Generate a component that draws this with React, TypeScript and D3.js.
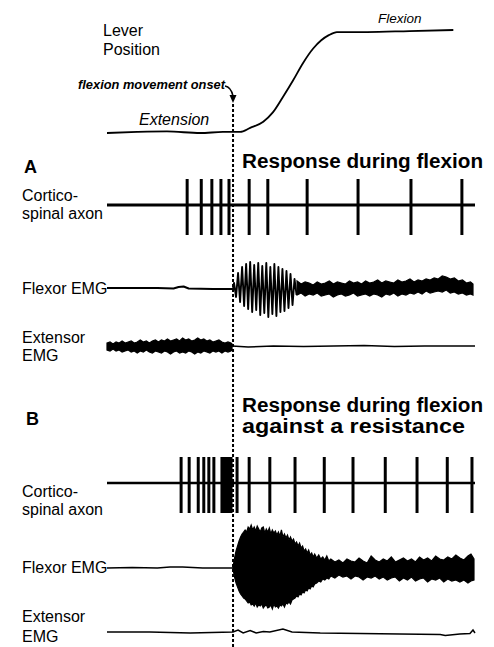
import React from 'react';
import * as d3 from 'd3';

// time in ms, 0 = flexion movement onset
const timeDomain = [-250, 480];

// lever position: 0 = extension, 1 = flexion
const leverTimes = [-250, -190, -131, -65, -20, 0, 14, 34, 60, 79, 99, 119, 139, 159, 175, 190, 206, 266, 350, 437];
const leverValues = [0, 0.01, 0.015, 0, 0.01, 0.01, 0.01, 0.05, 0.11, 0.2, 0.35, 0.51, 0.68, 0.82, 0.9, 0.95, 0.98, 0.98, 0.99, 1.0];

// corticospinal spike times (ms)
const spikesA = [-91, -63, -42, -24, -8, 32, 69, 147, 248, 353, 454];
const spikesB = [-103, -87, -69, -58, -48, -38, -22, -19, -16, -13, -10, -7, -4, 8, 32, 73, 123, 181, 238, 302, 365, 425, 474];

// EMG traces, arbitrary units: (t, value) or (t, upper, lower)
const flexorBaseA = [[-250, 1], [-150, 1], [-118, 0.5], [-108, 2], [-98, 2.5], [-88, 0.5], [-40, 0], [0, 0]];
const flexorBurstA = [
  [2, 6], [6, -8], [10, 16], [14, -13], [18, 22], [22, -17], [26, 25], [30, -20],
  [34, 27], [38, -23], [42, 24], [46, -21], [50, 26], [54, -26], [58, 23], [62, -24],
  [66, 26], [70, -28], [74, 22], [78, -25], [82, 25], [86, -27], [90, 22], [94, -23],
  [98, 20], [102, -22], [106, 18], [110, -19], [114, 15], [118, -16], [122, 10], [126, -6]
];
const flexorNoiseA = [
  [127, 8, -6], [135, 5, -4], [143, 7, -7], [151, 6, -5], [159, 4, -6], [167, 7, -4], [175, 5, -7],
  [183, 6, -6], [191, 8, -5], [199, 5, -8], [207, 7, -6], [215, 6, -5], [223, 5, -7], [231, 8, -6],
  [239, 6, -4], [247, 7, -7], [255, 5, -6], [263, 8, -5], [271, 6, -7], [279, 7, -5], [287, 9, -6],
  [295, 6, -8], [303, 8, -5], [311, 7, -6], [319, 6, -4], [327, 9, -7], [335, 7, -5], [343, 8, -6],
  [351, 10, -4], [359, 7, -5], [367, 9, -3], [375, 8, -5], [383, 10, -2], [391, 9, -4], [399, 11, -3],
  [407, 10, -2], [415, 13, -3], [423, 12, -1], [431, 10, -4], [439, 11, -3], [447, 8, -5], [455, 9, -4],
  [463, 6, -6], [471, 7, -5], [476, 5, -6]
];
const extensorNoiseA = [
  [-250, 3, -4], [-244, 4, -5], [-238, 2, -3], [-232, 4, -5], [-226, 3, -4], [-220, 5, -6], [-214, 3, -5],
  [-208, 4, -4], [-202, 5, -6], [-196, 3, -5], [-190, 4, -7], [-184, 6, -5], [-178, 4, -6], [-172, 5, -4],
  [-166, 3, -6], [-160, 5, -7], [-154, 6, -5], [-148, 4, -6], [-142, 6, -7], [-136, 5, -5], [-130, 7, -6],
  [-124, 5, -8], [-118, 6, -6], [-112, 7, -5], [-106, 5, -7], [-100, 8, -6], [-94, 6, -7], [-88, 7, -5],
  [-82, 5, -6], [-76, 6, -8], [-70, 8, -6], [-64, 6, -7], [-58, 7, -5], [-52, 5, -6], [-46, 6, -7],
  [-40, 4, -5], [-34, 5, -6], [-28, 6, -5], [-22, 4, -7], [-16, 3, -5], [-10, 4, -6], [-4, 3, -5], [-2, 2, -4]
];
const extensorBaseA = [[-2, 0], [30, -1], [80, 0], [140, -0.5], [200, 0], [260, 0.5], [320, -0.5], [380, 0], [440, 0], [480, 0]];

const flexorBaseB = [[-250, 0], [-200, 0.5], [-150, 0], [-125, 1], [-100, 1], [-60, 0], [0, 0]];
const flexorBurstB = [
  [0, 1, -1], [3, 10, -9], [6, 17, -15], [9, 22, -19], [12, 27, -23], [15, 31, -26], [18, 34, -28],
  [21, 36, -30], [24, 38, -31], [27, 36, -33], [30, 41, -35], [33, 39, -34], [36, 43, -37], [39, 38, -36],
  [42, 41, -38], [45, 37, -35], [48, 42, -39], [51, 39, -37], [54, 36, -38], [57, 40, -36], [60, 41, -40],
  [63, 35, -38], [66, 39, -37], [69, 36, -40], [72, 40, -39], [75, 34, -37], [78, 38, -41], [81, 35, -36],
  [84, 37, -39], [87, 33, -38], [90, 36, -40], [93, 32, -37], [96, 38, -38], [99, 31, -36], [102, 34, -39],
  [105, 30, -35], [108, 33, -36], [111, 28, -34], [114, 31, -36], [117, 27, -32], [120, 29, -31], [123, 24, -30],
  [126, 26, -28], [129, 22, -29], [132, 25, -26], [135, 20, -27], [138, 22, -24], [141, 17, -25], [144, 19, -22],
  [147, 15, -23], [150, 18, -20], [153, 13, -21], [156, 15, -18], [159, 11, -19], [162, 14, -16], [166, 10, -15],
  [170, 13, -13], [174, 9, -14], [178, 11, -11], [182, 8, -12], [186, 12, -10], [190, 7, -11],
  [194, 9, -8], [202, 6, -10], [210, 8, -7], [218, 5, -9], [226, 9, -8], [234, 7, -11], [242, 6, -8],
  [250, 10, -9], [258, 7, -12], [266, 5, -9], [274, 12, -10], [282, 8, -8], [290, 6, -11], [298, 9, -9],
  [306, 7, -12], [314, 11, -10], [322, 6, -9], [330, 8, -13], [338, 10, -10], [346, 7, -12], [354, 9, -9],
  [362, 6, -13], [370, 11, -11], [378, 8, -10], [386, 10, -14], [394, 7, -11], [402, 12, -12], [410, 9, -10],
  [418, 8, -14], [426, 11, -11], [434, 9, -13], [442, 13, -12], [450, 10, -14], [458, 8, -12], [466, 12, -15],
  [472, 14, -13], [478, 9, -12]
];
const extensorBaseB = [
  [-250, 0], [-165, 0], [-85, -1], [0, 0], [10, 2], [20, -1], [34, 1.5], [46, -1], [60, 0.5],
  [73, 0], [99, 3], [117, 0], [173, -1], [252, -1.5], [331, -2], [411, -2.5], [421, -3.5],
  [450, -2], [470, -1.5], [476, 2], [480, -1]
];

const FONT = '"Liberation Sans", Arial, Helvetica, sans-serif';

export default function App() {
  const x = d3.scaleLinear().domain(timeDomain).range([107, 475]);
  const leverY = d3.scaleLinear().domain([0, 1]).range([133, 30]);
  const emgY = (c: number) => d3.scaleLinear().domain([-40, 40]).range([c + 40, c - 40]);

  const leverLine = d3.line<number>()
    .x((_, i) => x(leverTimes[i]))
    .y(d => leverY(d))
    .curve(d3.curveMonotoneX);

  const trace = (c: number) => d3.line<number[]>().x(d => x(d[0])).y(d => emgY(c)(d[1]));
  const band = (c: number) => d3.area<number[]>()
    .x(d => x(d[0]))
    .y0(d => emgY(c)(d[2]))
    .y1(d => emgY(c)(d[1]));

  const onsetX = x(0);

  const axon = (cy: number, spikes: number[], w: number) => (
    <g stroke="#000">
      <line x1={x(timeDomain[0])} x2={x(timeDomain[1])} y1={cy} y2={cy} strokeWidth={w} />
      {spikes.map((t, i) => (
        <line key={i} x1={x(t)} x2={x(t)} y1={cy - 26} y2={cy + 30} strokeWidth={3} />
      ))}
    </g>
  );

  return (
    <svg width={494} height={647} style={{ position: 'absolute', left: 0, top: 0, background: '#fff' }} fontFamily={FONT}>
      {/* lever */}
      <text x={103} y={36} fontSize={16}>Lever</text>
      <text x={103} y={55} fontSize={16}>Position</text>
      <text x={378} y={23} fontSize={13.5} fontStyle="italic">Flexion</text>
      <text x={139} y={125} fontSize={16} fontStyle="italic">Extension</text>
      <text x={78} y={89} fontSize={12} fontStyle="italic" fontWeight="bold" textLength={147} lengthAdjust="spacingAndGlyphs">flexion movement onset</text>
      <path d={leverLine(leverValues) || ''} fill="none" stroke="#000" strokeWidth={1.8} />

      {/* onset marker */}
      <path d={`M 225 86 Q 231 87 233 96`} fill="none" stroke="#000" strokeWidth={1.5} />
      <polygon points={`${onsetX - 3.5},95 ${onsetX + 3.5},95 ${onsetX},103`} fill="#000" />
      <line x1={onsetX} x2={onsetX} y1={104} y2={647} stroke="#000" strokeWidth={2} strokeDasharray="3 2" />

      {/* panel A */}
      <text x={24} y={173} fontSize={18} fontWeight="bold">A</text>
      <text x={242} y={168} fontSize={20} fontWeight="bold" textLength={241} lengthAdjust="spacingAndGlyphs">Response during flexion</text>
      <text x={22} y={201} fontSize={16}>Cortico-</text>
      <text x={22} y={219} fontSize={16}>spinal axon</text>
      {axon(205, spikesA, 3)}

      <text x={22} y={294} fontSize={16}>Flexor EMG</text>
      <path d={trace(289)(flexorBaseA.concat(flexorBurstA)) || ''} fill="none" stroke="#000" strokeWidth={1.9} strokeLinejoin="round" />
      <path d={band(289)(flexorNoiseA) || ''} fill="#000" stroke="#000" strokeWidth={1.2} />

      <text x={22} y={343} fontSize={16}>Extensor</text>
      <text x={22} y={361} fontSize={16}>EMG</text>
      <path d={band(346)(extensorNoiseA) || ''} fill="#000" stroke="#000" strokeWidth={1.2} />
      <path d={trace(346)(extensorBaseA) || ''} fill="none" stroke="#000" strokeWidth={1.5} />

      {/* panel B */}
      <text x={26} y={425} fontSize={18} fontWeight="bold">B</text>
      <text x={242} y={412} fontSize={20} fontWeight="bold" textLength={241} lengthAdjust="spacingAndGlyphs">Response during flexion</text>
      <text x={242} y={433} fontSize={20} fontWeight="bold" textLength={223} lengthAdjust="spacingAndGlyphs">against a resistance</text>
      <text x={22} y={497} fontSize={16}>Cortico-</text>
      <text x={22} y={515} fontSize={16}>spinal axon</text>
      {axon(483, spikesB, 2.5)}

      <text x={22} y={573} fontSize={16}>Flexor EMG</text>
      <path d={trace(568)(flexorBaseB) || ''} fill="none" stroke="#000" strokeWidth={1.5} />
      <path d={band(568)(flexorBurstB) || ''} fill="#000" stroke="#000" strokeWidth={1.2} />

      <text x={22} y={622} fontSize={16}>Extensor</text>
      <text x={22} y={642} fontSize={16}>EMG</text>
      <path d={trace(632)(extensorBaseB) || ''} fill="none" stroke="#000" strokeWidth={1.5} />
    </svg>
  );
}
